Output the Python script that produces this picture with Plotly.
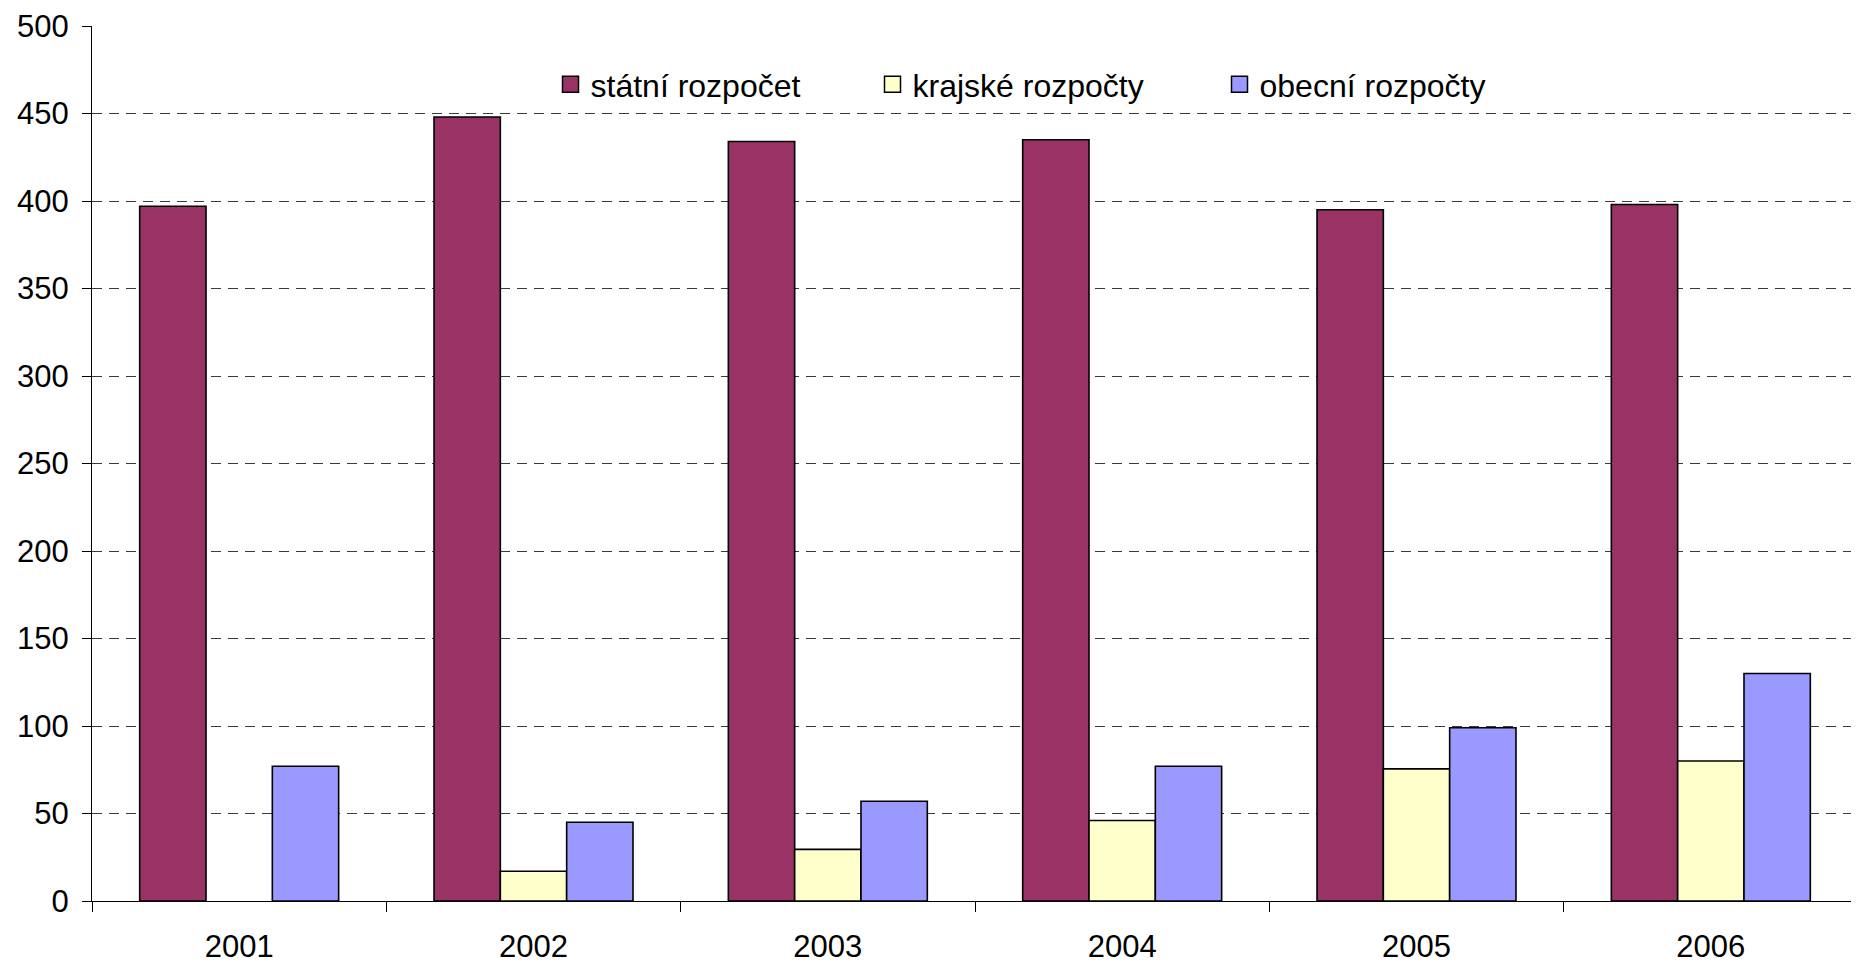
import plotly.graph_objects as go

years = ["2001", "2002", "2003", "2004", "2005", "2006"]
statni = [397, 448, 434, 435, 395, 398]
krajske = [None, 17, 29.5, 46, 75.5, 80]
obecni = [77, 45, 57, 77, 99, 130]
series_names = ["státní rozpočet", "krajské rozpočty", "obecní rozpočty"]
colors = ["#993366", "#FFFFCC", "#9999FF"]
y_ticks = list(range(0, 501, 50))

# page has a body margin; figure sized to fill the window
OFF = 8
W, H = 1859 - OFF, 965 - OFF
L, R, T, B = 84, 1, 17, 57
pw = W - L - R
ph = H - T - B

def px_x(p):  # p in page pixels
    return (p - OFF - L) / pw

def px_y(p):
    return (H - B - (p - OFF)) / ph

FONT = "Liberation Sans, Arial, sans-serif"

fig = go.Figure()
for name, vals, col in zip(series_names, [statni, krajske, obecni], colors):
    fig.add_trace(go.Bar(
        x=years, y=vals, name=name, showlegend=False,
        marker=dict(color=col, line=dict(color="black", width=1.6)),
    ))

legend_ids = ["legend", "legend2", "legend3"]
for name, col, lg in zip(series_names, colors, legend_ids):
    fig.add_trace(go.Scatter(
        x=[None], y=[None], mode="markers", name=name, legend=lg, showlegend=True,
        marker=dict(symbol="square", size=16, color=col, line=dict(color="black", width=1.5)),
    ))

marker_centers = [575.5, 897.5, 1244.5]
legend_common = dict(
    orientation="v", yanchor="middle", y=px_y(84), xanchor="left",
    bgcolor="rgba(0,0,0,0)", borderwidth=0,
    font=dict(family=FONT, size=32, color="black"),
)
layout_legends = {}
for lg, c in zip(legend_ids, marker_centers):
    d = dict(legend_common)
    d["x"] = px_x(c - 25)
    layout_legends[lg] = d

fig.update_layout(
    width=W, height=H,
    margin=dict(l=L, r=R, t=T, b=B, pad=0),
    paper_bgcolor="white", plot_bgcolor="white",
    barmode="group", bargap=0.324, bargroupgap=0,
    showlegend=True,
    font=dict(family=FONT, size=31, color="black"),
    xaxis=dict(
        type="category", tickson="boundaries", ticks="outside", ticklen=10,
        tickcolor="black", tickwidth=1, showline=True, linecolor="black", linewidth=1,
        showgrid=False, ticklabelstandoff=18, ticklabeloverflow="allow",
        tickfont=dict(family=FONT, size=31, color="black"),
    ),
    yaxis=dict(
        range=[0, 500], tickmode="array", tickvals=y_ticks,
        ticktext=[str(v) for v in y_ticks],
        ticks="outside", ticklen=9, tickcolor="black", tickwidth=1,
        showline=True, linecolor="black", linewidth=1,
        showgrid=True, gridcolor="#3a3a3a", gridwidth=1, griddash="10px,7px",
        zeroline=False, ticklabelstandoff=7, ticklabeloverflow="allow",
        tickfont=dict(family=FONT, size=31, color="black"),
    ),
    shapes=[dict(
        type="rect", xref="paper", yref="paper", layer="between",
        x0=px_x(515), x1=px_x(1528), y0=px_y(130), y1=px_y(52),
        fillcolor="white", line=dict(width=0),
    )],
    **layout_legends,
)

fig.write_html("out.html")
